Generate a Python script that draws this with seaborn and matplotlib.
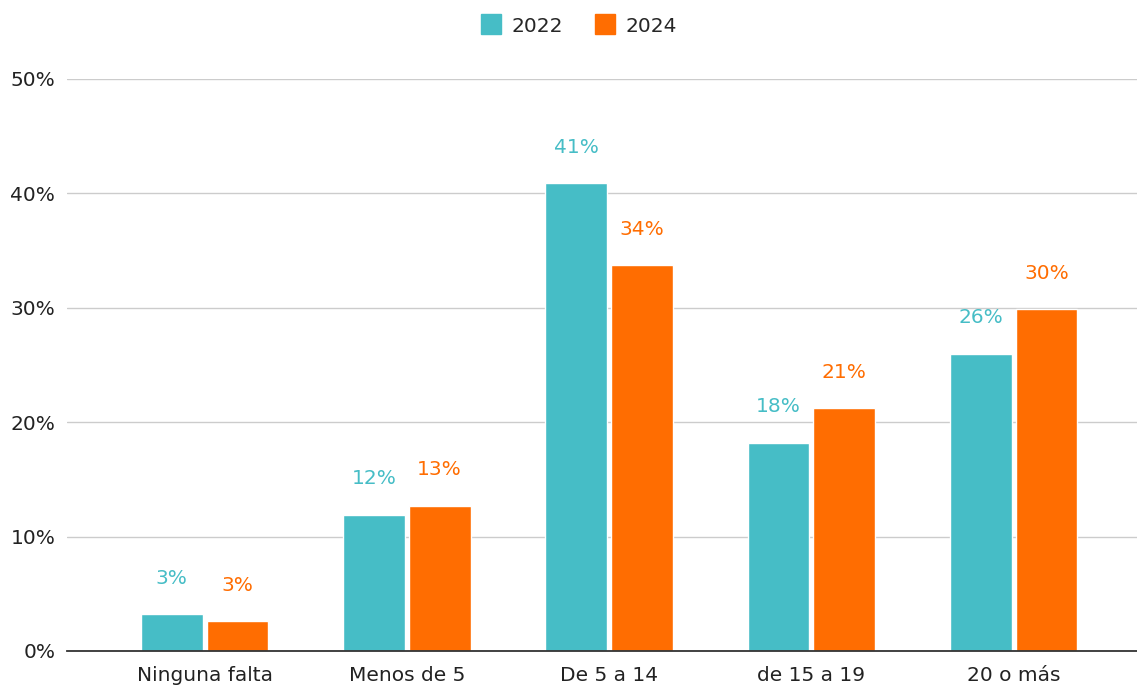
import matplotlib.pyplot as plt
import pandas as pd
import seaborn as sns
from matplotlib.lines import Line2D

# data (percent)
categories = ['Ninguna falta', 'Menos de 5', 'De 5 a 14', 'de 15 a 19', '20 o más']
years = ['2022', '2024']
values_2022 = [3.2, 11.9, 40.9, 18.2, 26.0]
values_2024 = [2.6, 12.7, 33.7, 21.2, 29.9]
labels_2022 = ['3%', '12%', '41%', '18%', '26%']
labels_2024 = ['3%', '13%', '34%', '21%', '30%']

df = pd.DataFrame({
    'categoria': categories * 2,
    'anio': [years[0]] * 5 + [years[1]] * 5,
    'valor': values_2022 + values_2024,
})

palette = {'2022': '#46BDC6', '2024': '#FF6D01'}

sns.set_theme(style='white')
plt.rcParams['font.family'] = ['DejaVu Sans']

fig = plt.figure(figsize=(11.37, 6.88), dpi=100)
ax = fig.add_axes([67 / 1137, 37 / 688, 1070 / 1137, 572 / 688])

sns.barplot(data=df, x='categoria', y='valor', hue='anio', palette=palette,
            width=0.65, gap=0.06, saturation=1, legend=False, ax=ax)

ax.set_xlim(-0.68, 4.61)
ax.set_ylim(0, 50)
ax.set_yticks([0, 10, 20, 30, 40, 50])
ax.set_yticklabels([f'{t}%' for t in range(0, 60, 10)])
ax.grid(True, axis='y', color='#cccccc', linewidth=1)
ax.set_axisbelow(True)
for s in ['top', 'right', 'left']:
    ax.spines[s].set_visible(False)
ax.spines['bottom'].set_color('#333333')
ax.spines['bottom'].set_linewidth(1.3)
ax.tick_params(axis='both', length=0, labelsize=14.5, colors='#222222')
ax.tick_params(axis='x', pad=11)
ax.tick_params(axis='y', pad=8.5)
ax.set_xlabel('')
ax.set_ylabel('')

# value labels above bars
for container, labels, year in zip(ax.containers, [labels_2022, labels_2024], years):
    for bar, lab in zip(container, labels):
        ax.annotate(lab, (bar.get_x() + bar.get_width() / 2, bar.get_height()),
                    xytext=(0, 19), textcoords='offset points',
                    ha='center', va='bottom', fontsize=14.5, color=palette[year])

handles = [Line2D([], [], marker='s', linestyle='none', markersize=15,
                  color=palette[y]) for y in years]
fig.legend(handles, years, loc='center', bbox_to_anchor=(579 / 1137, 1 - 26 / 688),
           ncol=2, frameon=False, fontsize=14.5, handletextpad=0.5,
           columnspacing=1.6, handlelength=1.0)

plt.savefig('out.png', dpi=100)
plt.close()
